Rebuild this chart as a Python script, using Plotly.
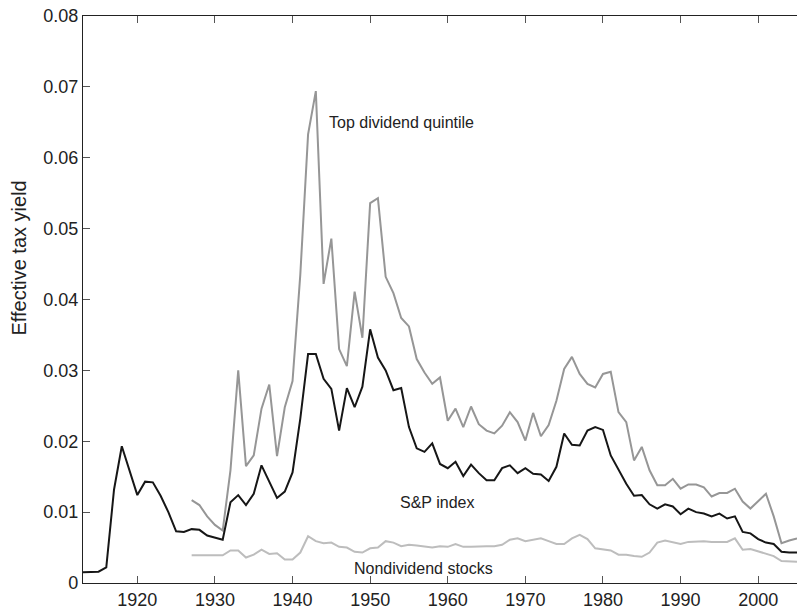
import plotly.graph_objects as go

# S&P index (black), 1913-2005
sp_years = list(range(1913, 2006))
sp_values = [
    0.0015, 0.0015, 0.0016, 0.0022, 0.0132, 0.0193, 0.0158, 0.0124, 0.0143, 0.0142,
    0.0123, 0.0100, 0.0073, 0.0072, 0.0076, 0.0075, 0.0067, 0.0064, 0.0061, 0.0114,
    0.0124, 0.0110, 0.0126, 0.0166, 0.0142, 0.0120, 0.0129, 0.0156, 0.0232, 0.0323,
    0.0323, 0.0288, 0.0274, 0.0215, 0.0275, 0.0248, 0.0277, 0.0358, 0.0318, 0.0300,
    0.0272, 0.0275, 0.0220, 0.0190, 0.0185, 0.0197, 0.0168, 0.0162, 0.0171, 0.0151,
    0.0167, 0.0155, 0.0145, 0.0145, 0.0162, 0.0166, 0.0155, 0.0162, 0.0154, 0.0153,
    0.0144, 0.0164, 0.0211, 0.0195, 0.0194, 0.0215, 0.0220, 0.0216, 0.0180, 0.0159,
    0.0140, 0.0123, 0.0124, 0.0111, 0.0105, 0.0111, 0.0108, 0.0097, 0.0105, 0.0100,
    0.0098, 0.0094, 0.0098, 0.0091, 0.0094, 0.0072, 0.0070, 0.0062, 0.0057, 0.0055,
    0.0044, 0.0043, 0.0043,
]

# Top dividend quintile (grey), 1927-2005
top_years = list(range(1927, 2006))
top_values = [
    0.0117, 0.0110, 0.0094, 0.0082, 0.0074, 0.0159, 0.0300, 0.0165, 0.0180, 0.0246,
    0.0280, 0.0179, 0.0248, 0.0285, 0.0435, 0.0633, 0.0694, 0.0422, 0.0486, 0.0330,
    0.0306, 0.0411, 0.0346, 0.0536, 0.0543, 0.0432, 0.0409, 0.0374, 0.0362, 0.0316,
    0.0297, 0.0281, 0.0290, 0.0229, 0.0246, 0.0220, 0.0249, 0.0224, 0.0215, 0.0211,
    0.0222, 0.0241, 0.0227, 0.0201, 0.0240, 0.0207, 0.0223, 0.0257, 0.0302, 0.0319,
    0.0295, 0.0281, 0.0276, 0.0295, 0.0298, 0.0241, 0.0227, 0.0173, 0.0192, 0.0159,
    0.0138, 0.0138, 0.0147, 0.0133, 0.0139, 0.0139, 0.0135, 0.0122, 0.0127, 0.0127,
    0.0133, 0.0115, 0.0105, 0.0115, 0.0126, 0.0094, 0.0056, 0.0060, 0.0063,
]

# Nondividend stocks (light grey), 1927-2005
non_years = list(range(1927, 2006))
non_values = [
    0.0039, 0.0039, 0.0039, 0.0039, 0.0039, 0.0046, 0.0046, 0.0036, 0.0040, 0.0047,
    0.0041, 0.0042, 0.0033, 0.0033, 0.0043, 0.0066, 0.0059, 0.0056, 0.0057, 0.0051,
    0.0050, 0.0044, 0.0043, 0.0049, 0.0050, 0.0059, 0.0057, 0.0052, 0.0054, 0.0053,
    0.0051, 0.0050, 0.0052, 0.0051, 0.0055, 0.0051, 0.0051, 0.0052, 0.0052, 0.0052,
    0.0054, 0.0061, 0.0063, 0.0059, 0.0061, 0.0063, 0.0059, 0.0055, 0.0055, 0.0063,
    0.0068, 0.0062, 0.0049, 0.0047, 0.0046, 0.0040, 0.0040, 0.0038, 0.0037, 0.0043,
    0.0057, 0.0060, 0.0058, 0.0055, 0.0058, 0.0059, 0.0059, 0.0058, 0.0058, 0.0058,
    0.0063, 0.0047, 0.0048, 0.0045, 0.0042, 0.0038, 0.0031, 0.0031, 0.0030,
]

x_ticks = [1920, 1930, 1940, 1950, 1960, 1970, 1980, 1990, 2000]
y_ticks = [0, 0.01, 0.02, 0.03, 0.04, 0.05, 0.06, 0.07, 0.08]
y_tick_labels = ["0", "0.01", "0.02", "0.03", "0.04", "0.05", "0.06", "0.07", "0.08"]

labels = [
    ("Top dividend quintile", 1944.4, 0.0650),
    ("S&P index", 1953.6, 0.0113),
    ("Nondividend stocks", 1947.6, 0.0020),
]
y_title = "Effective tax yield"

fig = go.Figure()
fig.add_trace(go.Scatter(x=non_years, y=non_values, mode="lines",
                         line=dict(color="#bdbdbd", width=2), name="Nondividend stocks"))
fig.add_trace(go.Scatter(x=top_years, y=top_values, mode="lines",
                         line=dict(color="#969696", width=2), name="Top dividend quintile"))
fig.add_trace(go.Scatter(x=sp_years, y=sp_values, mode="lines",
                         line=dict(color="#161616", width=2), name="S&P index"))

for text, lx, ly in labels:
    fig.add_annotation(x=lx, y=ly, text=text, showarrow=False, xanchor="left",
                       yanchor="middle", font=dict(size=16, color="#222222"))

# y-axis title placed as rotated text left of the axis
fig.add_annotation(x=-0.089, y=0.573, xref="paper", yref="paper", text=y_title,
                   textangle=-90, showarrow=False, xanchor="center", yanchor="middle",
                   font=dict(size=20, color="#222222"))

axis_font = dict(family="Liberation Sans, Arial, sans-serif", size=18, color="#222222")

fig.update_layout(
    width=797, height=610,
    margin=dict(l=83, r=0, t=16, b=23),
    paper_bgcolor="white", plot_bgcolor="white",
    showlegend=False,
    font=dict(family="Liberation Sans, Arial, sans-serif", color="#222222"),
    xaxis=dict(range=[1913, 2005], tickvals=x_ticks, ticks="inside", ticklen=7,
               tickcolor="#555555", showline=True, linecolor="#222222", linewidth=1.3,
               mirror="ticks", showgrid=False, zeroline=False, tickfont=axis_font),
    yaxis=dict(range=[0, 0.08], tickvals=y_ticks, ticktext=y_tick_labels,
               ticks="inside", ticklen=7, tickcolor="#555555", showline=True,
               linecolor="#222222", linewidth=1.3, showgrid=False, zeroline=False,
               tickfont=axis_font),
)

fig.write_html("out.html")
